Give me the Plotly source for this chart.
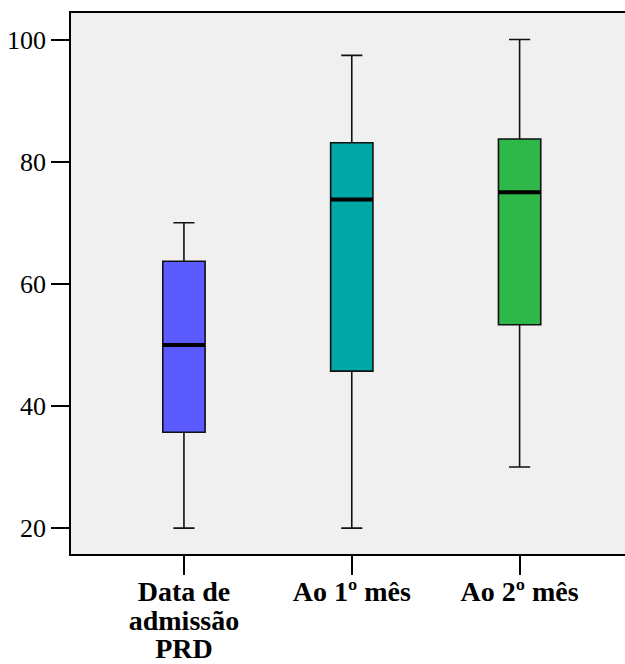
import plotly.graph_objects as go

categories = ["Data de admissão PRD", "Ao 1º mês", "Ao 2º mês"]
tick_labels = [["Data de", "admissão", "PRD"], ["Ao 1º mês"], ["Ao 2º mês"]]
lower_whisker = [20, 20, 30]
q1_values = [35.7, 45.7, 53.3]
medians = [50.0, 73.8, 75.0]
q3_values = [63.7, 83.1, 83.7]
upper_whisker = [70.0, 97.4, 100.0]
box_colors = ["#5B5BFF", "#00A7A7", "#2EB84A"]
y_ticks = [20, 40, 60, 80, 100]

BOX_W = 0.252
fig = go.Figure()
for i, cat in enumerate(categories):
    fig.add_trace(go.Box(
        x=[cat], q1=[q1_values[i]], median=[medians[i]], q3=[q3_values[i]],
        lowerfence=[lower_whisker[i]], upperfence=[upper_whisker[i]],
        fillcolor=box_colors[i], line=dict(color="#111111", width=1.6),
        width=BOX_W, whiskerwidth=0.5, boxpoints=False, showlegend=False,
    ))
for i, cat in enumerate(categories):
    m = medians[i]
    fig.add_trace(go.Box(
        x=[cat], q1=[m], median=[m], q3=[m], lowerfence=[m], upperfence=[m],
        fillcolor="rgba(0,0,0,0)", line=dict(color="black", width=4),
        width=BOX_W, whiskerwidth=0.5, boxpoints=False, showlegend=False,
        hoverinfo="skip",
    ))

def wrap(lines):
    return "<br>".join('<span style="font-size:28px">%s</span>' % s for s in lines)

fig.update_layout(
    width=625, height=664,
    margin=dict(l=71, r=0, t=13, b=108),
    paper_bgcolor="white", plot_bgcolor="#F0F0F0",
    boxmode="overlay", showlegend=False,
    xaxis=dict(
        type="category", range=[-0.673, 2.628],
        tickmode="array", tickvals=categories,
        ticktext=[wrap(t) for t in tick_labels],
        tickfont=dict(family="Liberation Serif", size=22, color="black", weight="bold"),
        ticks="outside", ticklen=19, tickwidth=2, tickcolor="black",
        showline=True, linecolor="black", linewidth=1.5, mirror=True,
        showgrid=False, zeroline=False,
    ),
    yaxis=dict(
        range=[15.76, 104.34], tickmode="array", tickvals=y_ticks,
        tickfont=dict(family="Liberation Serif", size=26, color="black"),
        ticks="outside", ticklen=18, tickwidth=2, tickcolor="black",
        showline=True, linecolor="black", linewidth=1.5,
        showgrid=False, zeroline=False,
    ),
)
fig.write_html(
    "out.html",
    config={"displayModeBar": False},
    post_script="document.body.style.margin='0';document.body.style.overflow='hidden';",
)
